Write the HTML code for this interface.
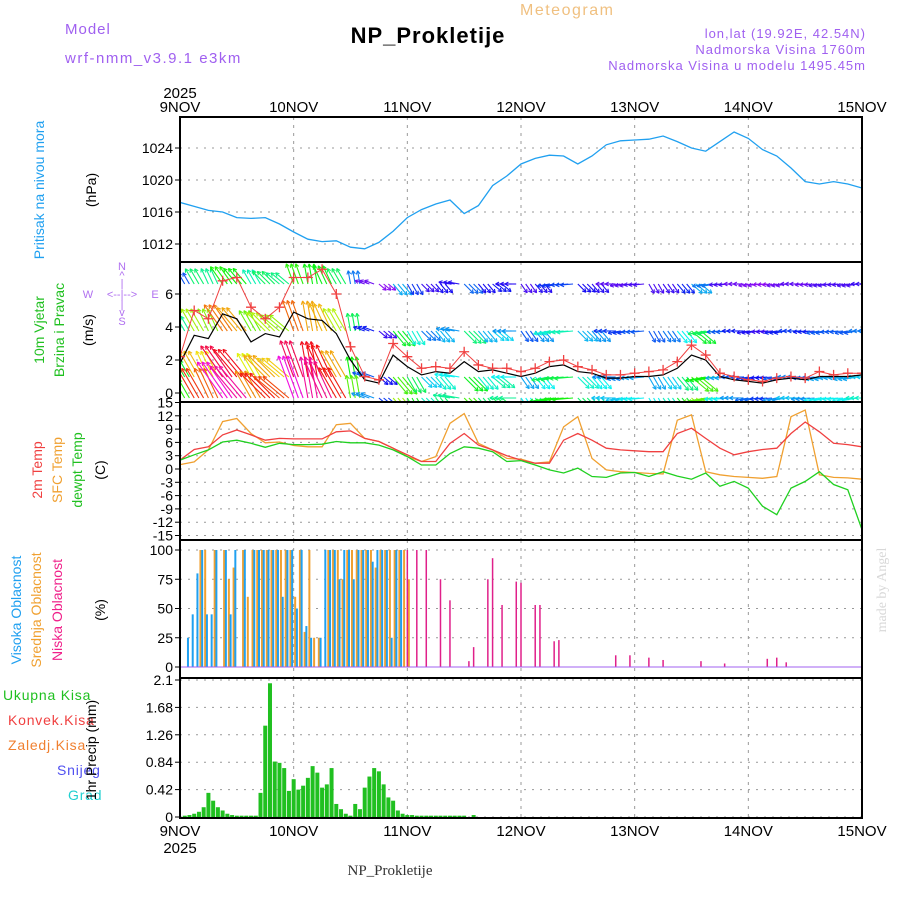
<!DOCTYPE html>
<html><head><meta charset="utf-8">
<style>
body{margin:0;background:#fff;}
svg{display:block;font-family:"Liberation Sans",sans-serif;}
</style></head>
<body>
<svg id="chart" width="900" height="900" viewBox="0 0 900 900" xmlns="http://www.w3.org/2000/svg">
<text x="65" y="34" fill="#a060f0" font-size="15" letter-spacing="1">Model</text>
<text x="65" y="63" fill="#a060f0" font-size="15" letter-spacing="1.5">wrf-nmm_v3.9.1 e3km</text>
<text x="520" y="15" fill="#f0c080" font-size="16" letter-spacing="1.5">Meteogram</text>
<text x="428" y="43" fill="#000" font-size="22" font-weight="bold" text-anchor="middle" letter-spacing="1">NP_Prokletije</text>
<text x="866" y="38" fill="#a060f0" font-size="13" text-anchor="end" letter-spacing="1">lon,lat (19.92E, 42.54N)</text>
<text x="866" y="54" fill="#a060f0" font-size="13" text-anchor="end" letter-spacing="1">Nadmorska Visina 1760m</text>
<text x="866" y="70" fill="#a060f0" font-size="13" text-anchor="end" letter-spacing="1">Nadmorska Visina u modelu 1495.45m</text>
<text x="390" y="875" fill="#333" font-size="15" font-family="Liberation Serif,serif" text-anchor="middle">NP_Prokletije</text>
<text x="886" y="590" fill="#d8d8d8" font-size="14" font-family="Liberation Serif,serif" text-anchor="middle" transform="rotate(-90 886 590)">made by Angel</text>

<text transform="translate(44 190) rotate(-90)" fill="#20a0f0" font-size="14" text-anchor="middle">Pritisak na nivou mora</text>
<text transform="translate(96 190) rotate(-90)" fill="#000" font-size="14" text-anchor="middle">(hPa)</text>
<text transform="translate(44 330) rotate(-90)" fill="#20c020" font-size="14" text-anchor="middle">10m Vjetar</text>
<text transform="translate(64 330) rotate(-90)" fill="#20c020" font-size="14" text-anchor="middle">Brzina i Pravac</text>
<text transform="translate(93 330) rotate(-90)" fill="#000" font-size="14" text-anchor="middle">(m/s)</text>
<g fill="#b070f0" font-size="11" text-anchor="middle">
<text x="122" y="270">N</text><text x="122" y="279">^</text><text x="122" y="287">|</text>
<text x="88" y="298">W</text><text x="122" y="298">&lt;--|--&gt;</text><text x="155" y="298">E</text>
<text x="122" y="308">|</text><text x="122" y="316">v</text><text x="122" y="325">S</text>
</g>
<text transform="translate(42 470) rotate(-90)" fill="#f04040" font-size="14" text-anchor="middle">2m Temp</text>
<text transform="translate(62 470) rotate(-90)" fill="#f0a030" font-size="14" text-anchor="middle">SFC Temp</text>
<text transform="translate(82 470) rotate(-90)" fill="#20c020" font-size="14" text-anchor="middle">dewpt Temp</text>
<text transform="translate(105 470) rotate(-90)" fill="#000" font-size="14" text-anchor="middle">(C)</text>
<text transform="translate(21 610) rotate(-90)" fill="#20a0f0" font-size="14" text-anchor="middle">Visoka Oblacnost</text>
<text transform="translate(41 610) rotate(-90)" fill="#f0a030" font-size="14" text-anchor="middle">Srednja Oblacnost</text>
<text transform="translate(62 610) rotate(-90)" fill="#f0208a" font-size="14" text-anchor="middle">Niska Oblacnost</text>
<text transform="translate(105 610) rotate(-90)" fill="#000" font-size="14" text-anchor="middle">(%)</text>
<text x="3" y="700" fill="#20c020" font-size="14" letter-spacing="0.8">Ukupna Kisa</text>
<text x="8" y="725" fill="#f04040" font-size="14" letter-spacing="0.8">Konvek.Kisa</text>
<text x="8" y="750" fill="#f08030" font-size="14" letter-spacing="0.8">Zaledj.Kisa</text>
<text x="57" y="775" fill="#5050f0" font-size="14" letter-spacing="0.8">Snijeg</text>
<text x="68" y="800" fill="#20d0d0" font-size="14" letter-spacing="0.8">Grad</text>
<text transform="translate(96 750) rotate(-90)" fill="#000" font-size="14" text-anchor="middle">1hr Precip (mm)</text>

<g id="plot"></g>
</svg>
<script>
const days = ["9NOV","10NOV","11NOV","12NOV","13NOV","14NOV","15NOV"];
const pressure = [1017.2,1016.7,1016.2,1016.0,1015.3,1015.2,1015.3,1014.5,1013.5,1012.6,1012.3,1012.4,1011.6,1011.4,1012.2,1013.6,1015.3,1016.3,1017.0,1017.5,1015.8,1016.8,1019.3,1020.5,1022.0,1022.7,1023.1,1023.0,1022.0,1023.0,1024.4,1024.9,1025.0,1025.1,1025.5,1024.8,1024.0,1023.6,1024.8,1026.0,1025.2,1023.8,1023.0,1021.5,1019.8,1019.5,1019.8,1019.5,1019.0];
const windSpeed = [1.8,3.5,3.3,4.8,4.5,3.1,3.6,3.4,4.9,4.5,4.4,3.6,2.0,0.8,0.6,2.3,1.6,1.1,1.3,1.2,1.9,1.3,1.4,1.2,1.0,1.2,1.6,1.7,1.3,1.2,0.9,0.9,1.0,1.0,1.1,1.5,2.3,2.0,1.0,0.8,0.7,0.6,0.8,0.9,0.8,1.0,1.0,1.0,1.1];
const windGust = [2.2,5.0,4.5,6.8,7.0,5.2,4.5,5.2,7.0,7.0,7.5,6.0,2.8,1.0,0.8,3.0,2.2,1.5,1.6,1.5,2.5,1.7,1.5,1.5,1.3,1.5,1.9,2.0,1.6,1.4,1.1,1.1,1.2,1.3,1.4,1.9,2.9,2.3,1.2,1.0,0.8,0.7,0.9,1.0,0.9,1.3,1.1,1.2,1.2];
const windDir = [-30,-30,-25,-35,-40,-30,-45,-50,-20,-10,-25,-30,-10,-70,130,140,150,135,140,-80,135,140,130,-90,145,140,-100,-95,135,140,-90,-100,-95,150,145,140,130,-100,-95,-90,-100,-95,-100,-90,-95,-100,-95,-100,-90];
const temp2m = [2.0,4.4,5.0,7.7,8.8,7.7,6.5,6.9,6.8,6.8,6.8,8.4,8.6,6.9,6.2,4.7,3.2,1.7,1.7,5.8,8.0,5.4,4.3,3.0,2.0,1.3,1.3,6.5,8.0,6.5,4.7,4.3,4.1,3.9,3.9,8.0,9.2,6.9,4.7,3.2,3.9,4.4,4.7,8.0,10.6,8.4,5.8,5.5,5.0];
const tempSfc = [1.0,1.6,4.3,10.7,11.4,8.0,5.9,6.1,5.3,5.0,5.0,10.0,10.3,6.9,6.2,4.7,2.8,1.7,2.8,10.3,12.5,5.8,4.3,2.4,2.2,1.3,1.6,9.5,11.8,2.4,-0.2,-0.6,-0.8,-1.0,-1.1,11.0,12.2,-0.6,-1.3,-1.7,-1.9,-2.1,-1.7,11.8,13.3,-1.3,-1.9,-2.0,-2.3];
const dewpt = [2.0,3.2,4.3,6.1,6.5,5.8,4.9,5.8,5.5,5.5,5.6,6.2,5.9,5.9,5.4,4.3,2.8,0.9,0.9,3.5,5.0,4.7,3.9,1.7,1.9,0.9,-0.2,-0.9,0.2,-1.7,-1.9,-0.9,-0.8,-1.7,-0.6,-1.6,-2.3,-0.9,-3.9,-2.8,-4.3,-8.4,-10.3,-4.3,-2.8,-0.6,-3.5,-4.7,-13.7];
const cloudHigh = [0,0,25,45,80,100,45,45,100,0,100,45,100,0,100,0,100,100,100,100,100,100,60,100,100,50,100,35,25,0,25,100,100,100,75,100,100,75,100,100,100,90,100,100,100,25,100,100,0,0].concat(new Array(95).fill(0));
const cloudMid = [0,0,0,0,100,100,0,100,0,100,75,85,0,100,60,100,100,100,100,100,100,100,100,100,60,100,30,100,25,25,0,100,100,100,75,100,100,100,100,100,100,85,100,100,100,100,100,100,75,0].concat(new Array(95).fill(0));
const cloudLow = [0,0,0,0,0,0,0,0,0,0,0,0,0,0,0,0,0,0,0,0,0,0,0,0,0,0,0,0,0,0,0,0,0,0,0,0,0,0,0,0,0,0,0,0,0,0,0,0,100,0,100,0,100,0,0,75,0,57,0,0,0,5,17,0,0,75,93,0,53,0,0,73,72,0,0,53,53,0,0,22,23,0,0,0,0,0,0,0,0,0,0,0,10,0,0,10,0,0,0,8,0,0,6,0,0,0,0,0,0,0,5,0,0,0,0,3,0,0,0,0,0,0,0,0,7,0,8,0,4,0,0,0,0,0,0,0,0,0,0,0,0,0,0,0,0];
const precip = [0,0.02,0.03,0.05,0.08,0.15,0.37,0.25,0.15,0.1,0.05,0.03,0.02,0.02,0.02,0.02,0.02,0.37,1.4,2.05,0.85,0.83,0.75,0.4,0.58,0.42,0.48,0.6,0.78,0.68,0.45,0.5,0.75,0.2,0.12,0.05,0.02,0.2,0.12,0.45,0.62,0.75,0.7,0.5,0.3,0.25,0.1,0.05,0.03,0.03,0.02,0.02,0.02,0.02,0.02,0.02,0.02,0.02,0.02,0.02,0.02,0,0.03].concat(new Array(82).fill(0));
const pTicks = [1012,1016,1020,1024];
const wTicks = [0,2,4,6];
const tTicks = [15,12,9,6,3,0,-3,-6,-9,-12,-15];
const cTicks = [0,25,50,75,100];
const rTicks = [0,0.42,0.84,1.26,1.68,2.1];

const X0=180,X1=862,HOURS=144;
const xh = h => X0+(X1-X0)*h/HOURS;
const lin=(d0,d1,r0,r1)=>v=>r0+(v-d0)*(r1-r0)/(d1-d0);
const yP=lin(1012,1024,244,148), yW=lin(0,6,393,294), yT=lin(0,15,469,402.5), yC=lin(0,100,667,550), yR=lin(0,2.1,817,680);
const panels=[[117,262],[262,402],[402,540],[540,678],[678,818]];
const NS="http://www.w3.org/2000/svg";
const plot=document.getElementById('plot');
function mk(tag,attrs,parent){const e=document.createElementNS(NS,tag);for(const k in attrs)e.setAttribute(k,attrs[k]);(parent||plot).appendChild(e);return e;}

const defs=mk('defs',{});
panels.forEach((p,i)=>{const c=mk('clipPath',{id:'clip'+i},defs);mk('rect',{x:X0,y:p[0],width:X1-X0,height:p[1]-p[0]},c);});

function hgrid(vals,ys,pi){
  vals.forEach(v=>{const y=ys(v);
    const g=mk('line',{x1:X0,x2:X1,y1:y,y2:y,stroke:'#999','stroke-dasharray':'2,6','stroke-width':1});
    
    
    const t=mk('line',{x1:X0-5,x2:X0,y1:y,y2:y,stroke:'#000','stroke-width':1});
    
    
    const tx=mk('text',{x:X0-7,y:y+5,'text-anchor':'end','font-size':14,fill:'#000'});
    tx.textContent=v;
    
    
  });
}
hgrid(pTicks,yP,0);
hgrid(wTicks,yW,1);
hgrid(tTicks,yT,2);
hgrid(cTicks,yC,3);
hgrid(rTicks,yR,4);
days.forEach((d,i)=>{const x=xh(i*24);
  panels.forEach(p=>{const l=mk('line',{x1:x,x2:x,y1:p[0],y2:p[1],stroke:'#999','stroke-dasharray':'3,5'});
    
    });
  const t1=mk('text',{x:x,y:112,'text-anchor':'middle','font-size':15,fill:'#000'});t1.textContent=d;
  
  
  const t2=mk('text',{x:x,y:836,'text-anchor':'middle','font-size':15,fill:'#000'});t2.textContent=d;
  
  
});
const yr1=mk('text',{x:180,y:98,'text-anchor':'middle','font-size':15});yr1.textContent='2025';


const yr2=mk('text',{x:180,y:853,'text-anchor':'middle','font-size':15});yr2.textContent='2025';



function line(arr,ys,color,name,pi,w){
  const pts=arr.map((v,i)=>xh(i*3).toFixed(1)+','+ys(v).toFixed(1)).join(' ');
  const l=mk('polyline',{points:pts,fill:'none',stroke:color,'stroke-width':w||1.3,'clip-path':'url(#clip'+pi+')'});
  
  
}
line(pressure,yP,'#20a0f0','pressure-line',0);

const rows=[[284,0.55],[331,1.0],[377,1.25],[398,1.5]];
const wg=mk('g',{'clip-path':'url(#clip1)'});


function hueFor(s){
  if(s<=2) return 300-80*s;
  if(s<=5.5) return 140-(s-2)*40;
  return Math.max(300,360-(s-5.5)*30);
}
windSpeed.forEach((s,i)=>{
  rows.forEach(r=>{
    const rs=s*r[1];
    const len=8+rs*5;
    const a=windDir[i]*Math.PI/180;
    for(let k=0;k<3;k++){
      const x=xh(i*3)+k*4.7, y=r[0];
      const x2=x+len*Math.sin(a), y2=y-len*Math.cos(a);
      const col='hsl('+hueFor(rs)+',90%,50%)';
      const ar=mk('line',{x1:x,y1:y,x2:x2,y2:y2,stroke:col,'stroke-width':1.1},wg);
      
      
      const hl=4;
      [0.5,-0.5].forEach(d=>{const b=a+Math.PI+d;
        const h=mk('line',{x1:x2,y1:y2,x2:x2+hl*Math.sin(b),y2:y2-hl*Math.cos(b),stroke:col,'stroke-width':1.1},wg);
        
        });
    }
  });
});
line(windSpeed,yW,'#000','wind-speed-line',1,1.2);
line(windGust,yW,'#f04040','wind-gust-line',1,1);
windGust.forEach((g,i)=>{const x=xh(i*3),y=yW(g);
  const p=mk('path',{d:`M${x-5},${y}H${x+5}M${x},${y-5}V${y+5}`,stroke:'#f04040','stroke-width':1.3,'clip-path':'url(#clip1)'});
  
  });

line(tempSfc,yT,'#f0a030','sfc-temp-line',2);
line(temp2m,yT,'#f04040','temp-2m-line',2);
line(dewpt,yT,'#20d020','dewpoint-line',2);

function bars(arr,color,off,w,name){arr.forEach((v,h)=>{if(v<=0)return;
  const x=xh(h)+off;const b=mk('rect',{x:x-w/2,y:yC(v),width:w,height:yC(0)-yC(v),fill:color});
  
  });}
bars(cloudMid,'#f0a030',1.5,2,'mid-cloud-bar');
bars(cloudHigh,'#20a0f0',-1.5,2,'high-cloud-bar');
bars(cloudLow,'#e0208a',0,1.5,'low-cloud-bar');
const cb=mk('line',{x1:X0,x2:X1,y1:667,y2:667,stroke:'#a060f0','stroke-width':1});



precip.forEach((v,h)=>{if(v<=0)return;const x=xh(h);
  const b=mk('rect',{x:x-2,y:yR(v),width:4,height:yR(0)-yR(v),fill:'#20c020'});
  
  });

panels.forEach((p,i)=>{const r=mk('rect',{x:X0,y:p[0],width:X1-X0,height:p[1]-p[0],fill:'none',stroke:'#000','stroke-width':2});
  
  });
</script>
</body></html>
